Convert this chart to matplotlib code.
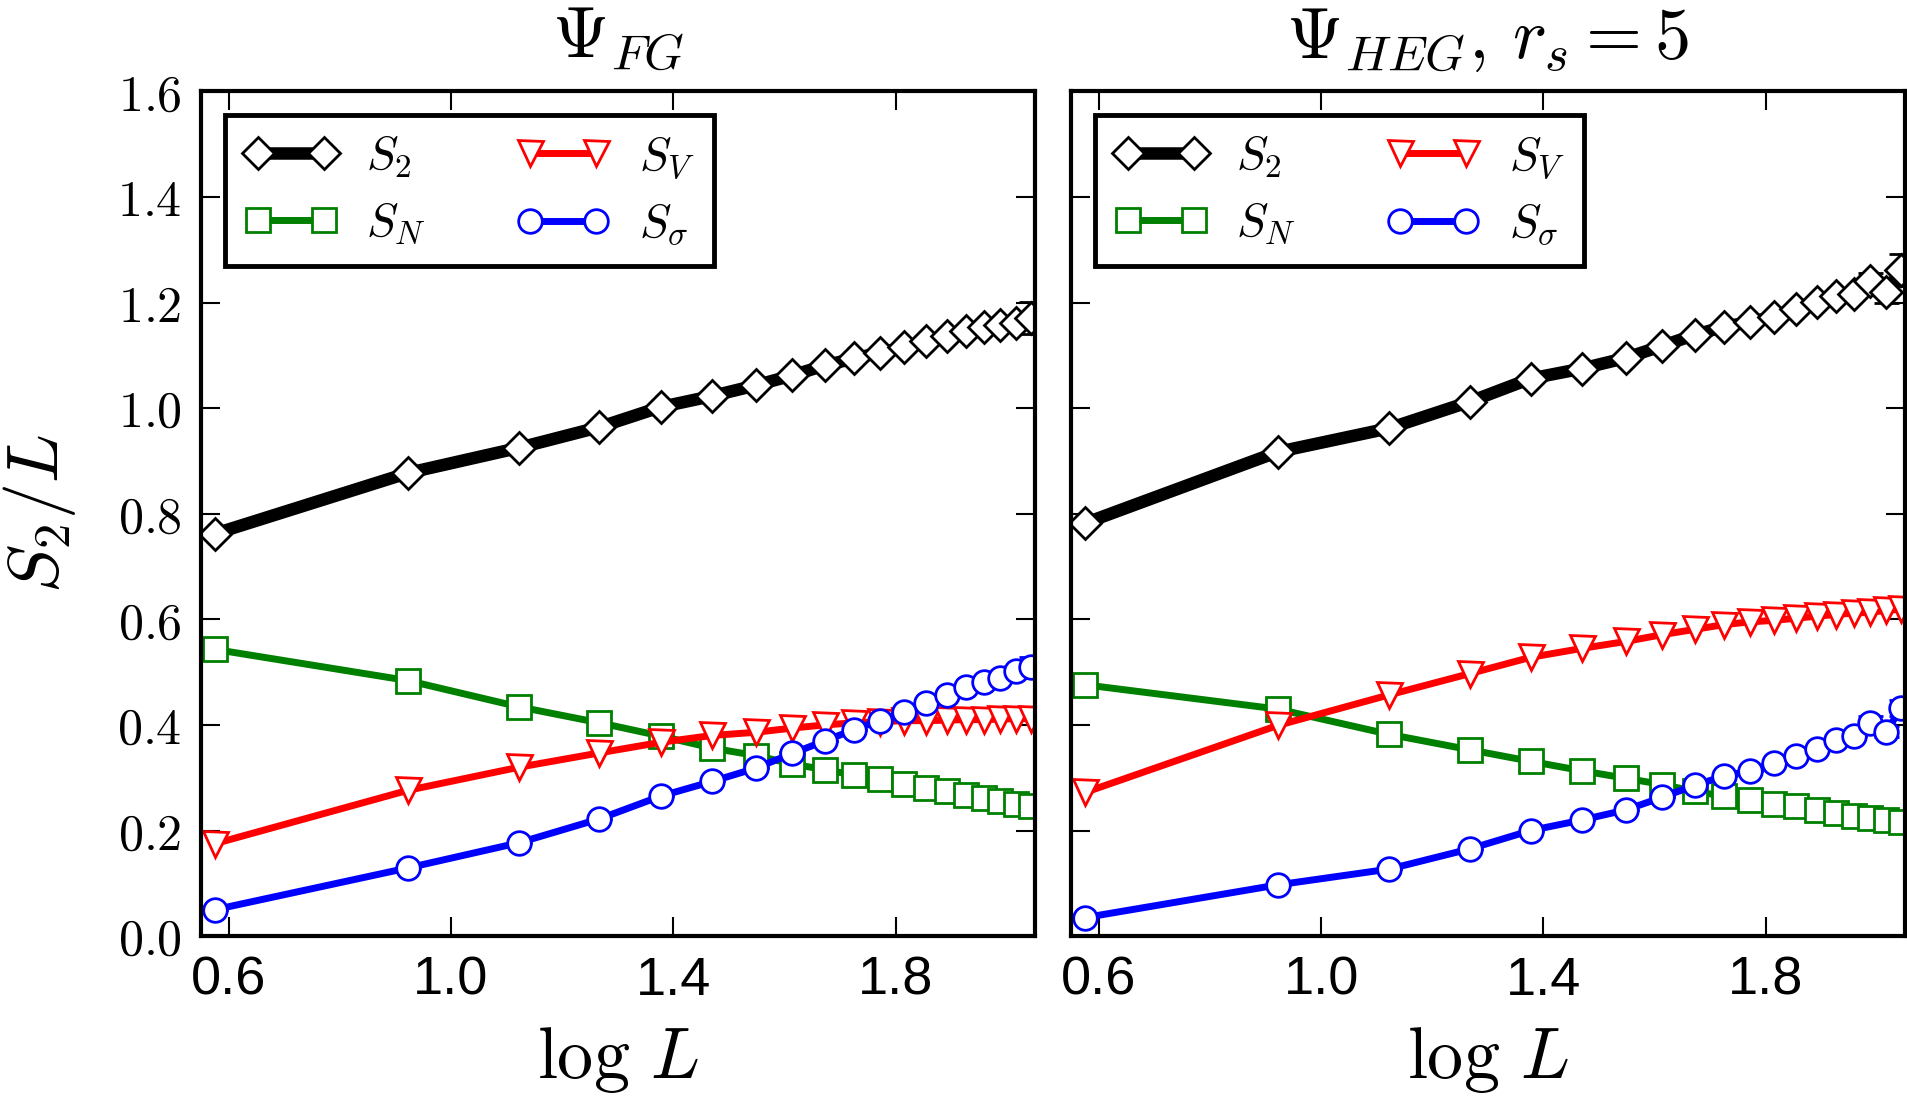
import matplotlib.pyplot as plt
import numpy as np

plt.rcParams['mathtext.fontset'] = 'cm'

# x positions (log L), shared by both panels
log_L = [0.575, 0.922, 1.123, 1.267, 1.377, 1.470, 1.548, 1.614, 1.673, 1.725,
         1.771, 1.815, 1.855, 1.892, 1.926, 1.959, 1.988, 2.016, 2.044]

# left panel: Psi_FG
fg_s2 = [0.762, 0.877, 0.925, 0.964, 1.002, 1.023, 1.043, 1.062, 1.081, 1.094,
         1.105, 1.115, 1.128, 1.136, 1.146, 1.153, 1.157, 1.161, 1.171]
fg_sn = [0.543, 0.484, 0.434, 0.404, 0.379, 0.356, 0.342, 0.326, 0.315, 0.305,
         0.298, 0.288, 0.281, 0.274, 0.267, 0.261, 0.255, 0.250, 0.247]
fg_sv = [0.175, 0.276, 0.320, 0.347, 0.367, 0.380, 0.386, 0.394, 0.400, 0.404,
         0.406, 0.408, 0.408, 0.409, 0.410, 0.410, 0.411, 0.412, 0.412]
fg_ss = [0.050, 0.129, 0.177, 0.222, 0.265, 0.293, 0.318, 0.346, 0.370, 0.391,
         0.408, 0.425, 0.441, 0.457, 0.471, 0.482, 0.489, 0.502, 0.509]
fg_s2_err = [0]*17 + [0.01, 0.03]
fg_ss_err = [0]*17 + [0.01, 0.02]

# right panel: Psi_HEG, r_s = 5
heg_s2 = [0.782, 0.917, 0.962, 1.012, 1.056, 1.075, 1.095, 1.118, 1.139, 1.154,
          1.163, 1.173, 1.187, 1.201, 1.213, 1.217, 1.240, 1.220, 1.261]
heg_sn = [0.476, 0.430, 0.382, 0.353, 0.331, 0.313, 0.299, 0.287, 0.274, 0.265,
          0.258, 0.250, 0.246, 0.239, 0.234, 0.228, 0.223, 0.219, 0.216]
heg_sv = [0.272, 0.399, 0.457, 0.497, 0.528, 0.545, 0.558, 0.571, 0.581, 0.590,
          0.595, 0.598, 0.602, 0.606, 0.609, 0.612, 0.613, 0.617, 0.619]
heg_ss = [0.035, 0.097, 0.127, 0.165, 0.200, 0.220, 0.239, 0.263, 0.286, 0.303,
          0.313, 0.328, 0.342, 0.354, 0.372, 0.379, 0.404, 0.387, 0.432]
heg_s2_err = [0]*16 + [0.015, 0.02, 0.03]
heg_ss_err = [0]*16 + [0.012, 0.01, 0.015]

y_ticks = [0.0, 0.2, 0.4, 0.6, 0.8, 1.0, 1.2, 1.4, 1.6]
x_ticks = [0.6, 1.0, 1.4, 1.8]


def panel(ax, s2, sn, sv, ss, s2_err, ss_err, title, ylabels):
    ax.errorbar(log_L, s2, yerr=s2_err, fmt='none', ecolor='k', elinewidth=2,
                capsize=9, capthick=2, zorder=1)
    ax.errorbar(log_L, ss, yerr=ss_err, fmt='none', ecolor='b', elinewidth=2,
                capsize=9, capthick=2, zorder=1)
    l1, = ax.plot(log_L, s2, '-D', color='k', lw=9, ms=16, mfc='w', mec='k', mew=2)
    l2, = ax.plot(log_L, sn, '-s', color='g', lw=5, ms=17, mfc='w', mec='g', mew=2)
    l3, = ax.plot(log_L, sv, '-v', color='r', lw=5, ms=18, mfc='w', mec='r', mew=2)
    l4, = ax.plot(log_L, ss, '-o', color='b', lw=5, ms=17, mfc='w', mec='b', mew=2)

    ax.set_xlim(0.55, 2.05)
    ax.set_ylim(0.0, 1.6)
    ax.set_xticks(x_ticks)
    ax.set_xticklabels(['%.1f' % t for t in x_ticks], family='Liberation Sans',
                       fontsize=39)
    ax.set_yticks(y_ticks)
    if ylabels:
        ax.set_yticklabels([r'$%.1f$' % t for t in y_ticks], fontsize=36)
        ax.set_ylabel(r'$S_2/L$', fontsize=52, labelpad=28)
    else:
        ax.set_yticklabels([])
    ax.tick_params(direction='in', length=14, width=1.5, top=True, right=True, pad=14)
    for sp in ax.spines.values():
        sp.set_linewidth(3)
    ax.set_title(title, fontsize=52, pad=24)
    ax.set_xlabel(r'$\log\, L$', fontsize=52, labelpad=14)

    leg = ax.legend([l1, l2, l3, l4], [r'$S_2$', r'$S_N$', r'$S_V$', r'$S_\sigma$'],
                    loc='upper left', ncol=2, numpoints=2, fontsize=34,
                    fancybox=False, edgecolor='k', framealpha=1,
                    handlelength=2.0, handletextpad=0.6, columnspacing=1.9,
                    labelspacing=0.45, borderaxespad=0.5)
    leg.get_frame().set_linewidth(3.5)


fig = plt.figure(figsize=(19.08, 11.0), dpi=100)
ax1 = fig.add_axes([0.1053, 0.149, 0.437, 0.768])
ax2 = fig.add_axes([0.5613, 0.149, 0.437, 0.768])

panel(ax1, fg_s2, fg_sn, fg_sv, fg_ss, fg_s2_err, fg_ss_err,
      r'$\Psi_{FG}$', True)
panel(ax2, heg_s2, heg_sn, heg_sv, heg_ss, heg_s2_err, heg_ss_err,
      r'$\Psi_{HEG},\, r_s=5$', False)

fig.savefig('out.png', dpi=100)
